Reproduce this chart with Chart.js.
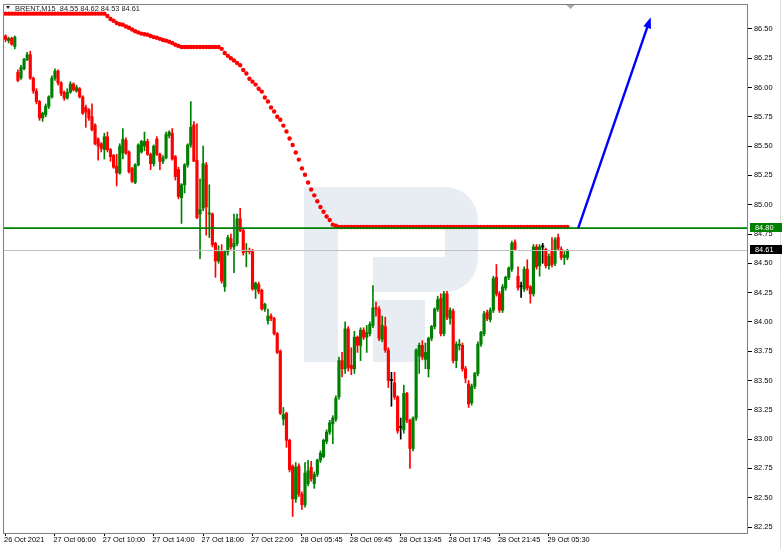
<!DOCTYPE html>
<html><head><meta charset="utf-8">
<script src="https://cdn.jsdelivr.net/npm/chart.js"></script>
<style>html,body{margin:0;padding:0;background:#fff;}#wrap{width:782px;height:549px;position:relative;}</style>
</head><body><div id="wrap"><canvas id="c"></canvas></div>
<script>
// ---------------- data ----------------
const slotCount = 241;          // bar slots on the time axis (candles + empty future area)
const tickEvery = 16;           // one time label every 16 bars (4 h of M15)
const tickLabels = ["26 Oct 2021","27 Oct 06:00","27 Oct 10:00","27 Oct 14:00","27 Oct 18:00","27 Oct 22:00","28 Oct 05:45","28 Oct 09:45","28 Oct 13:45","28 Oct 17:45","28 Oct 21:45","29 Oct 05:30"];
const yTicks = [82.25,82.50,82.75,83.00,83.25,83.50,83.75,84.00,84.25,84.50,84.75,85.00,85.25,85.50,85.75,86.00,86.25,86.50];
const yMin = 82.199, yMax = 86.7125;

const opens = [86.44,86.40,86.42,86.35,86.13,86.08,86.16,86.24,86.28,86.08,85.97,85.88,85.74,85.77,85.84,85.92,86.08,86.14,86.04,85.96,
85.91,85.96,86.03,85.97,85.99,85.92,85.83,85.81,85.75,85.68,85.56,85.52,85.47,85.58,85.47,85.42,85.33,85.27,85.44,85.55,
85.45,85.31,85.19,85.34,85.45,85.50,85.54,85.43,85.35,85.56,85.43,85.37,85.40,85.59,85.61,85.41,85.30,85.06,85.17,85.34,
85.51,85.68,85.38,84.92,84.97,85.34,84.92,84.92,84.67,84.52,84.60,84.30,84.60,84.71,84.64,84.67,84.88,84.78,84.60,84.61,
84.60,84.28,84.32,84.27,84.11,84.01,84.05,84.03,83.90,83.75,83.17,83.22,82.99,82.77,82.49,82.77,82.53,82.44,82.62,82.76,
82.62,82.70,82.82,82.85,82.98,83.06,83.13,83.17,83.36,83.67,83.60,83.94,83.63,83.60,83.87,83.80,83.93,83.87,83.90,83.97,
84.12,84.11,83.85,83.96,83.76,83.50,83.48,83.36,83.10,83.08,83.39,83.16,82.92,83.18,83.71,83.80,83.68,83.60,83.86,83.96,
84.11,84.20,83.90,84.24,84.03,84.09,83.67,83.80,83.80,83.60,83.47,83.31,83.45,83.56,83.81,83.90,84.08,84.02,84.10,84.38,
84.24,84.10,84.29,84.38,84.45,84.68,84.39,84.30,84.28,84.45,84.30,84.24,84.64,84.48,84.64,84.62,84.48,84.60,84.50,84.72,
84.62,84.55,84.55];
const highs = [86.45,86.43,86.43,86.44,86.15,86.19,86.25,86.30,86.31,86.09,85.99,85.89,85.79,85.86,85.93,86.10,86.16,86.15,86.05,85.97,
85.99,86.05,86.04,86.02,86.00,85.93,85.85,85.82,85.86,85.69,85.57,85.53,85.61,85.62,85.48,85.43,85.43,85.52,85.65,85.57,
85.46,85.32,85.35,85.52,85.55,85.62,85.56,85.44,85.51,85.58,85.44,85.42,85.62,85.63,85.65,85.42,85.32,85.18,85.35,85.52,
85.88,85.71,85.69,85.22,85.50,85.36,85.17,84.93,84.68,84.65,84.66,84.61,84.74,84.75,84.92,84.92,84.97,84.79,84.67,84.63,
84.62,84.34,84.34,84.28,84.16,84.11,84.07,84.04,83.91,83.76,83.27,83.23,83.00,82.78,82.80,82.79,82.55,82.80,82.82,82.81,
82.72,82.83,82.90,83.00,83.08,83.16,83.20,83.37,83.70,83.74,84.00,83.96,83.78,83.92,83.88,83.95,83.95,83.97,84.00,84.31,
84.17,84.13,84.05,84.04,83.78,83.57,83.57,83.37,83.18,83.46,83.40,83.17,83.19,83.77,83.82,83.84,83.82,83.87,83.97,84.12,
84.22,84.24,84.26,84.26,84.12,84.11,83.83,83.85,83.82,83.62,83.50,83.47,83.57,83.83,83.92,84.09,84.10,84.12,84.39,84.49,
84.26,84.32,84.39,84.47,84.69,84.70,84.47,84.34,84.47,84.53,84.31,84.66,84.66,84.66,84.67,84.63,84.58,84.72,84.72,84.75,
84.64,84.60,84.62];
const lows = [86.39,86.38,86.36,86.33,86.05,86.07,86.15,86.23,86.07,85.95,85.86,85.72,85.71,85.75,85.82,85.91,86.06,86.02,85.93,85.89,
85.90,85.95,85.97,85.96,85.91,85.77,85.66,85.72,85.63,85.51,85.38,85.45,85.39,85.45,85.37,85.31,85.16,85.26,85.39,85.43,
85.27,85.19,85.18,85.33,85.44,85.46,85.42,85.30,85.33,85.42,85.30,85.35,85.39,85.57,85.38,85.21,85.05,84.84,85.10,85.32,
85.49,85.37,84.88,84.54,84.95,84.74,84.72,84.64,84.38,84.50,84.33,84.26,84.57,84.62,84.42,84.65,84.77,84.57,84.47,84.58,
84.27,84.20,84.24,84.10,84.09,83.98,84.01,83.89,83.73,83.21,83.12,82.93,82.72,82.34,82.46,82.51,82.40,82.42,82.60,82.64,
82.58,82.68,82.80,82.84,82.96,83.04,82.96,83.15,83.34,83.53,83.56,83.58,83.55,83.56,83.74,83.67,83.85,83.74,83.88,83.95,
84.05,83.84,83.83,83.74,83.44,83.28,83.34,83.05,83.00,83.05,83.14,82.75,82.90,83.16,83.56,83.68,83.60,83.53,83.84,83.94,
84.09,83.88,83.88,84.02,83.98,83.65,83.61,83.76,83.58,83.48,83.27,83.29,83.43,83.54,83.79,83.88,84.01,84.00,84.08,84.22,
84.08,84.08,84.27,84.36,84.43,84.61,84.27,84.21,84.26,84.27,84.16,84.22,84.45,84.39,84.50,84.46,84.45,84.47,84.48,84.61,
84.53,84.49,84.53];
const closes = [86.41,86.42,86.37,86.43,86.06,86.17,86.24,86.28,86.08,85.97,85.88,85.74,85.78,85.84,85.92,86.08,86.14,86.04,85.95,85.91,
85.96,86.03,85.98,86.00,85.92,85.78,85.79,85.74,85.64,85.52,85.50,85.48,85.58,85.47,85.41,85.32,85.27,85.50,85.56,85.44,
85.28,85.20,85.34,85.51,85.54,85.54,85.43,85.35,85.50,85.43,85.37,85.40,85.60,85.62,85.39,85.24,85.07,85.17,85.34,85.51,
85.66,85.37,84.89,84.96,85.35,84.98,84.93,84.66,84.52,84.60,84.35,84.60,84.72,84.64,84.67,84.88,84.78,84.59,84.61,84.60,
84.28,84.33,84.26,84.11,84.15,84.05,84.03,83.90,83.74,83.22,83.21,82.99,82.74,82.49,82.76,82.53,82.44,82.71,82.73,82.66,
82.70,82.82,82.88,82.99,83.06,83.14,83.18,83.35,83.67,83.60,83.94,83.61,83.60,83.87,83.80,83.93,83.87,83.91,83.98,84.12,
84.11,83.86,83.97,83.76,83.50,83.50,83.36,83.07,83.10,83.39,83.16,82.92,83.18,83.76,83.80,83.70,83.74,83.86,83.96,84.11,
84.19,83.90,84.24,84.04,84.10,83.67,83.81,83.81,83.60,83.52,83.30,83.45,83.56,83.81,83.91,84.07,84.03,84.10,84.37,84.24,
84.10,84.30,84.38,84.46,84.67,84.62,84.29,84.30,84.45,84.29,84.24,84.64,84.47,84.64,84.64,84.48,84.56,84.49,84.70,84.63,
84.55,84.57,84.61];
// Parabolic SAR dots, one per candle
const sar = [86.63,86.63,86.63,86.63,86.63,86.63,86.63,86.63,86.63,86.63,86.63,86.63,86.63,86.63,86.63,86.63,86.63,86.63,86.63,86.63,
86.63,86.63,86.63,86.63,86.63,86.63,86.63,86.63,86.63,86.63,86.63,86.63,86.63,86.61,86.585,86.57,86.55,86.54,86.535,86.52,
86.51,86.495,86.48,86.47,86.46,86.455,86.45,86.44,86.43,86.425,86.415,86.405,86.40,86.39,86.38,86.365,86.355,86.345,86.345,86.345,
86.345,86.345,86.345,86.345,86.345,86.345,86.345,86.345,86.345,86.345,86.33,86.295,86.27,86.25,86.23,86.21,86.19,86.15,86.12,86.075,
86.05,86.025,85.99,85.965,85.915,85.88,85.83,85.795,85.75,85.725,85.675,85.625,85.565,85.51,85.445,85.385,85.31,85.255,85.19,85.13,
85.08,85.03,84.98,84.94,84.90,84.87,84.83,84.82,84.81,84.81,84.81,84.81,84.81,84.81,84.81,84.81,84.81,84.81,84.81,84.81,
84.81,84.81,84.81,84.81,84.81,84.81,84.81,84.81,84.81,84.81,84.81,84.81,84.81,84.81,84.81,84.81,84.81,84.81,84.81,84.81,
84.81,84.81,84.81,84.81,84.81,84.81,84.81,84.81,84.81,84.81,84.81,84.81,84.81,84.81,84.81,84.81,84.81,84.81,84.81,84.81,
84.81,84.81,84.81,84.81,84.81,84.81,84.81,84.81,84.81,84.81,84.81,84.81,84.81,84.81,84.81,84.81,84.81,84.81,84.81,84.81,
84.81,84.81,84.81];
const supportLevel = 84.80;     // green horizontal level
const bidLevel = 84.61;         // current price line
const arrowFrom = [185.5, 84.80];  // [bar index, price]
const arrowTo = [209, 86.60];
const symbolInfo = "BRENT,M15  84.55 84.62 84.53 84.61";
const shiftMarkIndex = 183;

// ---------------- build ----------------
const labels = Array.from({length: slotCount}, (_, i) => (i % tickEvery === 0 && tickLabels[i / tickEvery]) ? tickLabels[i / tickEvery] : '');
const GREEN = '#008000', RED = '#ff0000', BLACK = '#000000';
const candleColor = opens.map((o, i) => closes[i] > o ? GREEN : (closes[i] < o ? RED : BLACK));
const FONT_FAMILY = "'Liberation Sans',Arial,sans-serif";
const FONT_SIZE = 7.4;
const tickFont = {family: FONT_FAMILY, size: FONT_SIZE};

const decor = {
  id: 'decor',
  beforeDatasetsDraw(chart) {
    const {ctx, chartArea: a} = chart;
    ctx.save();
    ctx.beginPath(); ctx.rect(a.left, a.top, a.right - a.left, a.bottom - a.top); ctx.clip();
    ctx.fillStyle = '#e8edf4';
    // watermark logo
    ctx.fillRect(304, 187, 34, 175);
    ctx.beginPath();
    ctx.moveTo(338, 187);
    ctx.lineTo(445, 187);
    ctx.arcTo(478, 187, 478, 220, 33);
    ctx.lineTo(478, 259);
    ctx.arcTo(478, 292, 445, 292, 33);
    ctx.lineTo(373, 292);
    ctx.lineTo(373, 257);
    ctx.lineTo(445, 257);
    ctx.lineTo(445, 225);
    ctx.lineTo(338, 225);
    ctx.closePath();
    ctx.fill();
    ctx.fillRect(373, 300, 52, 62);
    ctx.restore();
  },
  afterDatasetsDraw(chart) {
    const {ctx, chartArea: a, scales: {x, y}} = chart;
    ctx.save();
    const yb = Math.round(y.getPixelForValue(bidLevel)) + 0.5;
    ctx.strokeStyle = '#c0c0c0'; ctx.lineWidth = 1;
    ctx.beginPath(); ctx.moveTo(a.left, yb); ctx.lineTo(a.right, yb); ctx.stroke();
    const ys = y.getPixelForValue(supportLevel);
    ctx.strokeStyle = GREEN; ctx.lineWidth = 1.6;
    ctx.beginPath(); ctx.moveTo(a.left, ys); ctx.lineTo(a.right, ys); ctx.stroke();
    // arrow
    const x0 = x.getPixelForValue(arrowFrom[0]), y0 = y.getPixelForValue(arrowFrom[1]);
    const x1 = x.getPixelForValue(arrowTo[0]), y1 = y.getPixelForValue(arrowTo[1]);
    const ang = Math.atan2(y1 - y0, x1 - x0), hl = 11, hw = 4;
    const bx = x1 - hl * Math.cos(ang), by = y1 - hl * Math.sin(ang);
    ctx.strokeStyle = '#0000ff'; ctx.fillStyle = '#0000ff'; ctx.lineWidth = 2.4;
    ctx.beginPath(); ctx.moveTo(x0, y0); ctx.lineTo(bx + 2 * Math.cos(ang), by + 2 * Math.sin(ang)); ctx.stroke();
    ctx.beginPath();
    ctx.moveTo(x1, y1);
    ctx.lineTo(bx + hw * Math.sin(ang), by - hw * Math.cos(ang));
    ctx.lineTo(bx - hw * Math.sin(ang), by + hw * Math.cos(ang));
    ctx.closePath(); ctx.fill();
    ctx.restore();
  },
  afterDraw(chart) {
    const {ctx, chartArea: a, scales: {x, y}} = chart;
    ctx.save();
    // frame
    ctx.strokeStyle = '#808080'; ctx.lineWidth = 1;
    ctx.strokeRect(Math.round(a.left) - 0.5, Math.round(a.top) + 0.5, Math.round(a.right - a.left), Math.round(a.bottom - a.top));
    ctx.strokeStyle = '#dddddd';
    ctx.beginPath(); ctx.moveTo(780.5, 0); ctx.lineTo(780.5, 549); ctx.stroke();
    // price boxes on the axis
    ctx.font = FONT_SIZE + "px " + FONT_FAMILY; ctx.textBaseline = 'middle'; ctx.textAlign = 'left';
    [[supportLevel, GREEN], [bidLevel, BLACK]].forEach(([v, col]) => {
      const py = Math.round(y.getPixelForValue(v));
      ctx.fillStyle = col; ctx.fillRect(a.right + 2, py - 5, 34, 9);
      ctx.fillStyle = '#ffffff'; ctx.fillText(v.toFixed(2), a.right + 7, py);
    });
    // header
    ctx.fillStyle = '#222222';
    ctx.beginPath(); ctx.moveTo(6, 6); ctx.lineTo(10, 6); ctx.lineTo(8, 9); ctx.closePath(); ctx.fill();
    ctx.textBaseline = 'alphabetic';
    ctx.fillText(symbolInfo, 15, 11);
    // chart shift marker
    const sx = x.getPixelForValue(shiftMarkIndex);
    ctx.fillStyle = '#a8a8a8';
    ctx.beginPath(); ctx.moveTo(sx - 4, a.top + 1); ctx.lineTo(sx + 4, a.top + 1); ctx.lineTo(sx, a.top + 5); ctx.closePath(); ctx.fill();
    ctx.restore();
  }
};

new Chart(document.getElementById('c'), {
  type: 'bar',
  data: {
    labels,
    datasets: [
      {type: 'line', label: 'SAR', data: sar, showLine: false, pointRadius: 2.2, pointBorderWidth: 0,
       pointBackgroundColor: RED, pointBorderColor: RED, order: 0},
      {label: 'body', data: opens.map((o, i) => [o, closes[i]]), backgroundColor: candleColor, borderWidth: 0,
       barThickness: 2.5, grouped: false, minBarLength: 1, order: 1},
      {label: 'wick', data: lows.map((l, i) => [l, highs[i]]), backgroundColor: candleColor, borderWidth: 0,
       barThickness: 1, grouped: false, order: 2}
    ]
  },
  options: {
    responsive: true, maintainAspectRatio: false, animation: false,
    layout: {padding: {left: 3, top: 2, right: 0, bottom: 0}},
    plugins: {legend: {display: false}, tooltip: {enabled: false}},
    scales: {
      x: {
        type: 'category', offset: true,
        grid: {display: true, offset: false, drawOnChartArea: false, drawTicks: true, tickLength: 3, color: '#000'},
        border: {display: false},
        ticks: {autoSkip: false, maxRotation: 0, minRotation: 0, align: 'start', padding: 0, labelOffset: -1.5,
                font: tickFont, color: '#000', callback: (v, i) => labels[i] ? labels[i] : null},
        afterFit: s => { s.height = 16; s.paddingLeft = 0; s.paddingRight = 0; }
      },
      y: {
        position: 'right', min: yMin, max: yMax,
        grid: {drawOnChartArea: false, drawTicks: true, tickLength: 4, color: '#000'},
        border: {display: false},
        ticks: {font: tickFont, color: '#000', padding: 2, callback: v => Number(v).toFixed(2)},
        afterBuildTicks: s => { s.ticks = yTicks.map(v => ({value: v})); },
        afterFit: s => { s.width = 34; s.paddingTop = 0; s.paddingBottom = 0; }
      }
    }
  },
  plugins: [decor]
});
</script>
</body></html>
